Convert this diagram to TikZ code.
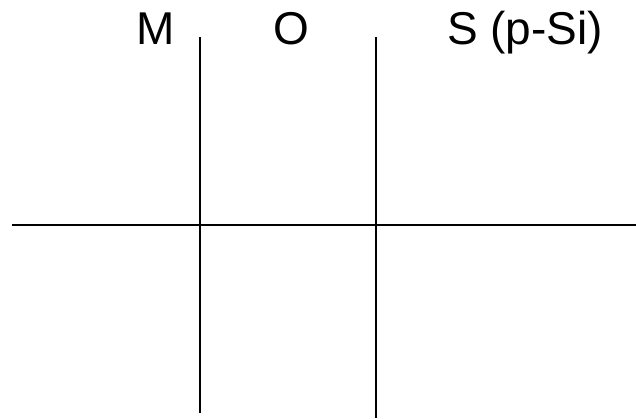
\documentclass[tikz,border=0pt]{standalone}
\usepackage{fontspec}
\setmainfont{Liberation Sans}
\begin{document}
\begin{tikzpicture}[x=1pt,y=1pt,
  lbl/.style={anchor=base,inner sep=0pt,font=\fontsize{46}{50}\selectfont},
  ln/.style={line width=2pt,black}]
\useasboundingbox (0,0) rectangle (636,418);
\coordinate (v1t) at (200,381);
\coordinate (v1b) at (200,5);
\coordinate (v2t) at (376,381);
\coordinate (v2b) at (376,0);
\coordinate (hl) at (12,193);
\coordinate (hr) at (636,193);
\draw[ln] (v1t) -- (v1b);
\draw[ln] (v2t) -- (v2b);
\draw[ln] (hl) -- (hr);
\node[lbl] (m) at (155.5,373) {M};
\node[lbl] (o) at (291,373) {O};
\node[lbl] (s) at (525,373) {S (p-Si)};
\end{tikzpicture}
\end{document}
